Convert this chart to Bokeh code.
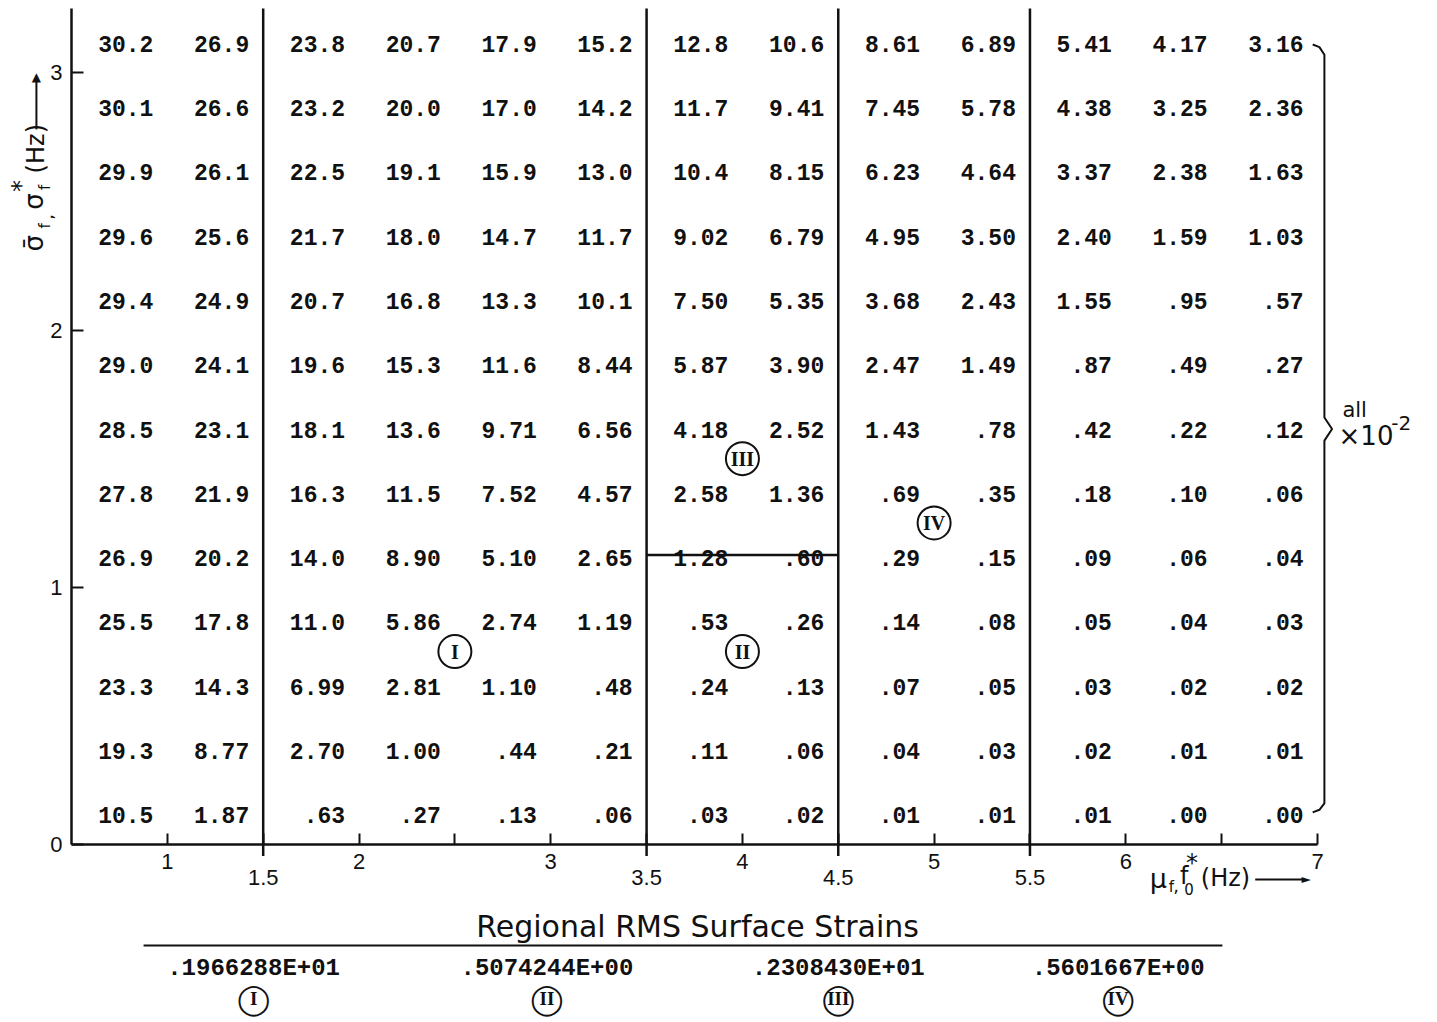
import math
from bokeh.plotting import figure
from bokeh.models import Range1d, FixedTicker, ColumnDataSource, CustomJSTickFormatter
from bokeh.core.properties import value
from bokeh.embed import file_html
from bokeh.resources import INLINE

# ---------------- data ----------------
# column centres (mu_f, f0* in Hz) and row levels (sigma_f, sigma_f* in Hz)
mu_cells = [0.75, 1.25, 1.75, 2.25, 2.75, 3.25, 3.75, 4.25, 4.75, 5.25, 5.75, 6.25, 6.75]
sigma_levels = [3.125, 2.875, 2.625, 2.375, 2.125, 1.875, 1.625, 1.375, 1.125, 0.875, 0.625, 0.375, 0.125]

row_3_125 = [30.2, 26.9, 23.8, 20.7, 17.9, 15.2, 12.8, 10.6, 8.61, 6.89, 5.41, 4.17, 3.16]
row_2_875 = [30.1, 26.6, 23.2, 20.0, 17.0, 14.2, 11.7, 9.41, 7.45, 5.78, 4.38, 3.25, 2.36]
row_2_625 = [29.9, 26.1, 22.5, 19.1, 15.9, 13.0, 10.4, 8.15, 6.23, 4.64, 3.37, 2.38, 1.63]
row_2_375 = [29.6, 25.6, 21.7, 18.0, 14.7, 11.7, 9.02, 6.79, 4.95, 3.50, 2.40, 1.59, 1.03]
row_2_125 = [29.4, 24.9, 20.7, 16.8, 13.3, 10.1, 7.50, 5.35, 3.68, 2.43, 1.55, 0.95, 0.57]
row_1_875 = [29.0, 24.1, 19.6, 15.3, 11.6, 8.44, 5.87, 3.90, 2.47, 1.49, 0.87, 0.49, 0.27]
row_1_625 = [28.5, 23.1, 18.1, 13.6, 9.71, 6.56, 4.18, 2.52, 1.43, 0.78, 0.42, 0.22, 0.12]
row_1_375 = [27.8, 21.9, 16.3, 11.5, 7.52, 4.57, 2.58, 1.36, 0.69, 0.35, 0.18, 0.10, 0.06]
row_1_125 = [26.9, 20.2, 14.0, 8.90, 5.10, 2.65, 1.28, 0.60, 0.29, 0.15, 0.09, 0.06, 0.04]
row_0_875 = [25.5, 17.8, 11.0, 5.86, 2.74, 1.19, 0.53, 0.26, 0.14, 0.08, 0.05, 0.04, 0.03]
row_0_625 = [23.3, 14.3, 6.99, 2.81, 1.10, 0.48, 0.24, 0.13, 0.07, 0.05, 0.03, 0.02, 0.02]
row_0_375 = [19.3, 8.77, 2.70, 1.00, 0.44, 0.21, 0.11, 0.06, 0.04, 0.03, 0.02, 0.01, 0.01]
row_0_125 = [10.5, 1.87, 0.63, 0.27, 0.13, 0.06, 0.03, 0.02, 0.01, 0.01, 0.01, 0.00, 0.00]

rows = [row_3_125, row_2_875, row_2_625, row_2_375, row_2_125, row_1_875, row_1_625,
        row_1_375, row_1_125, row_0_875, row_0_625, row_0_375, row_0_125]

region_bounds_mu = [1.5, 3.5, 4.5, 5.5]
region_bound_labels = ["1.5", "3.5", "4.5", "5.5"]
region_split_sigma = 1.125
region_split_mu = [3.5, 4.5]

region_names = ["I", "II", "III", "IV"]
region_label_mu = [2.5, 4.0, 4.0, 5.0]
region_label_sigma = [0.75, 0.75, 1.5, 1.25]

rms_strain = [1.966288, 0.5074244, 2.308430, 0.5601667]
rms_mu = [1.45, 2.98, 4.50, 5.96]

x_ticks = [1.0, 1.5, 2.0, 2.5, 3.0, 3.5, 4.0, 4.5, 5.0, 5.5, 6.0, 6.5, 7.0]
y_ticks = [0, 1, 2, 3]


def fmt_cell(v):
    if v >= 10:
        return f"{v:.1f}"
    s = f"{v:.2f}"
    return s[1:] if v < 1 else s


def fort_e(v, digits=7):
    e = math.floor(math.log10(v)) + 1
    m = v / 10 ** e
    mant = f"{m:.{digits}f}"[1:]
    return f"{mant}E{'+' if e >= 0 else '-'}{abs(e):02d}"


INK = "#111111"
MONO = value("Liberation Mono")
SANS = value("DejaVu Sans")

p = figure(width=1437, height=1022, x_range=Range1d(0.5, 7.0), y_range=Range1d(0, 3.25),
           output_backend="svg", toolbar_location=None,
           min_border_left=71, min_border_right=120, min_border_top=8, min_border_bottom=178)
p.background_fill_color = "white"
p.border_fill_color = "white"
p.outline_line_color = None
p.xgrid.visible = False
p.ygrid.visible = False

# axes
xa = p.xaxis[0]
xa.ticker = FixedTicker(ticks=x_ticks)
xa.formatter = CustomJSTickFormatter(code="return Number.isInteger(tick) ? tick.toFixed(0) : '';")
xa.major_tick_in = 11
xa.major_tick_out = 0
xa.minor_tick_line_color = None
xa.axis_line_width = 2.5
xa.major_tick_line_width = 2
xa.axis_line_color = INK
xa.major_tick_line_color = INK
xa.major_label_standoff = 9
xa.major_label_text_font = "Liberation Sans"
xa.major_label_text_font_size = "22px"
xa.major_label_text_color = INK

ya = p.yaxis[0]
ya.ticker = FixedTicker(ticks=y_ticks)
ya.major_tick_in = 12
ya.major_tick_out = 0
ya.minor_tick_line_color = None
ya.axis_line_width = 2.5
ya.major_tick_line_width = 2
ya.axis_line_color = INK
ya.major_tick_line_color = INK
ya.major_label_standoff = 9
ya.major_label_text_font = "Liberation Sans"
ya.major_label_text_font_size = "22px"
ya.major_label_text_color = INK
ya.major_label_orientation = "horizontal"

# table values
tx, ty, tt = [], [], []
for sig, row in zip(sigma_levels, rows):
    for mu, v in zip(mu_cells, row):
        tx.append(mu + 0.25)
        ty.append(sig)
        tt.append(fmt_cell(v))
p.text(x="x", y="y", text="t", source=ColumnDataSource(dict(x=tx, y=ty, t=tt)),
       text_align="right", text_baseline="middle", x_offset=-14, y_offset=3,
       text_font=MONO, text_font_style="bold", text_font_size="23px", text_color=INK)

# region boundaries
p.segment(x0=region_bounds_mu, y0=[-0.045] * 4, x1=region_bounds_mu, y1=[3.25] * 4,
          line_color=INK, line_width=2.5, level="overlay")
p.segment(x0=[region_split_mu[0]], y0=[region_split_sigma], x1=[region_split_mu[1]], y1=[region_split_sigma],
          line_color=INK, line_width=2.5)
p.text(x=region_bounds_mu, y=[-0.13] * 4, text=region_bound_labels, text_align="center",
       text_baseline="middle", text_font=value("Liberation Sans"), text_font_size="22px",
       text_color=INK, level="overlay")

# region markers
p.scatter(x=region_label_mu, y=region_label_sigma, marker="circle", size=33,
          fill_color=None, line_color=INK, line_width=2)
p.text(x=region_label_mu, y=region_label_sigma, text=region_names, text_align="center",
       text_baseline="middle", text_font=value("Liberation Serif"), text_font_style="bold",
       text_font_size="20px", text_color=INK)

# brace on the right
bx = [6.975, 7.01, 7.036, 7.036, 7.076, 7.036, 7.036, 7.01, 6.975]
by = [3.11, 3.10, 3.07, 1.66, 1.615, 1.57, 0.16, 0.135, 0.125]
p.line(bx, by, line_color=INK, line_width=2, level="overlay")
p.text(x=[7.13], y=[1.69], text=["all"], text_align="left", text_baseline="middle",
       text_font=SANS, text_font_size="21px", text_color=INK, level="overlay")
p.text(x=[7.11], y=[1.59], text=["×10"], text_align="left", text_baseline="middle",
       text_font=SANS, text_font_size="26px", text_color=INK, level="overlay")
p.text(x=[7.385], y=[1.64], text=["-2"], text_align="left", text_baseline="middle",
       text_font=SANS, text_font_size="20px", text_color=INK, level="overlay")

# y axis label: sigma-bar_f, sigma_f* (Hz) ->
ang = math.pi / 2
p.text(x=[0.302, 0.302], y=[2.337, 2.50], text=["σ̄", "σ"], angle=ang, text_align="center",
       text_baseline="middle", text_font=SANS, text_font_size="26px", text_color=INK, level="overlay")
p.text(x=[0.364, 0.364], y=[2.405, 2.555], text=["f", "f"], angle=ang, text_align="center",
       text_baseline="middle", text_font=SANS, text_font_size="15px", text_color=INK, level="overlay")
p.text(x=[0.37], y=[2.44], text=[","], angle=ang, text_align="center",
       text_baseline="middle", text_font=SANS, text_font_size="18px", text_color=INK, level="overlay")
p.text(x=[0.235], y=[2.56], text=["*"], angle=ang, text_align="center",
       text_baseline="middle", text_font=SANS, text_font_size="24px", text_color=INK, level="overlay")
p.text(x=[0.317], y=[2.705], text=["(Hz)"], angle=ang, text_align="center",
       text_baseline="middle", text_font=SANS, text_font_size="24px", text_color=INK, level="overlay")
p.line([0.317, 0.317], [2.78, 2.97], line_color=INK, line_width=2, level="overlay")
p.text(x=[0.317], y=[2.985], text=["▲"], text_align="center", text_baseline="middle",
       text_font=SANS, text_font_size="12px", text_color=INK, level="overlay")

# x axis label: mu_f, f0* (Hz) ->
p.text(x=[6.17], y=[-0.132], text=["μ"], text_align="center", text_baseline="middle",
       text_font=SANS, text_font_size="27px", text_color=INK, level="overlay")
p.text(x=[6.238, 6.33], y=[-0.165, -0.172], text=["f", "0"], text_align="center", text_baseline="middle",
       text_font=SANS, text_font_size="15px", text_color=INK, level="overlay")
p.text(x=[6.262], y=[-0.16], text=[","], text_align="center", text_baseline="middle",
       text_font=SANS, text_font_size="18px", text_color=INK, level="overlay")
p.text(x=[6.305], y=[-0.124], text=["f"], text_align="center", text_baseline="middle",
       text_font=SANS, text_font_size="24px", text_color=INK, level="overlay")
p.text(x=[6.345], y=[-0.07], text=["*"], text_align="center", text_baseline="middle",
       text_font=SANS, text_font_size="24px", text_color=INK, level="overlay")
p.text(x=[6.52], y=[-0.132], text=["(Hz)"], text_align="center", text_baseline="middle",
       text_font=SANS, text_font_size="24px", text_color=INK, level="overlay")
p.line([6.675, 6.93], [-0.136, -0.136], line_color=INK, line_width=2, level="overlay")
p.text(x=[6.94], y=[-0.136], text=["►"], text_align="center", text_baseline="middle",
       text_font=SANS, text_font_size="12px", text_color=INK, level="overlay")

# bottom: regional RMS surface strains
p.text(x=[3.766], y=[-0.32], text=["Regional RMS Surface Strains"], text_align="center",
       text_baseline="middle", text_font=SANS, text_font_size="30px", text_color=INK, level="overlay")
p.segment(x0=[0.876], y0=[-0.393], x1=[6.504], y1=[-0.393], line_color=INK, line_width=2, level="overlay")
p.text(x=rms_mu, y=[-0.482] * 4, text=[fort_e(v) for v in rms_strain], text_align="center",
       text_baseline="middle", text_font=MONO, text_font_style="bold", text_font_size="24px",
       text_color=INK, level="overlay")
p.text(x=rms_mu, y=[-0.598] * 4, text=["◯"] * 4, text_align="center", text_baseline="middle",
       text_font=SANS, text_font_size="30px", text_color=INK, level="overlay")
p.text(x=rms_mu, y=[-0.598] * 4, text=region_names, text_align="center", text_baseline="middle",
       text_font=value("Liberation Serif"), text_font_style="bold", text_font_size="19px",
       text_color=INK, level="overlay")

open("out.html", "w").write(file_html(p, INLINE))
